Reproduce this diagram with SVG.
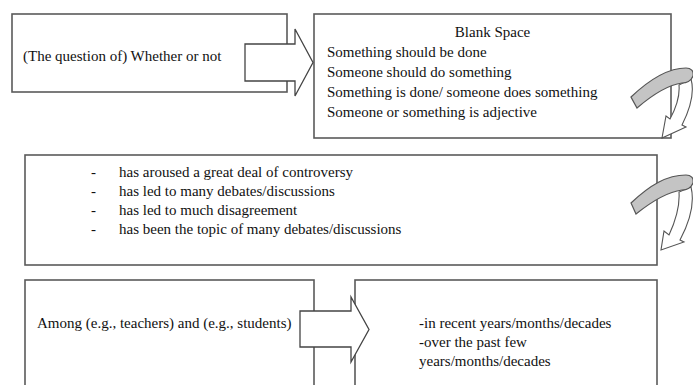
<svg xmlns="http://www.w3.org/2000/svg" width="693" height="385" viewBox="0 0 693 385">
<style>
.box{fill:#fff;stroke:#5a5a5a;stroke-width:1.6}
.t{font-family:"Liberation Serif","Times New Roman",serif;font-size:15px;fill:#111}
.blk{fill:#fff;stroke:#444;stroke-width:1.3;stroke-linejoin:miter}
.band{fill:#c4c4c4;stroke:#555;stroke-width:1.2}
.wa{fill:#fff;stroke:#555;stroke-width:1.1}
</style>
<rect width="693" height="385" fill="#fff"/>
<g id="node-whether">
<rect class="box" x="12" y="14" width="275" height="78"/>
<text class="t" x="23" y="61">(The question of) Whether or not</text>
</g>
<g id="node-blank">
<rect class="box" x="314" y="14" width="357" height="124"/>
<text class="t" x="492.5" y="37" text-anchor="middle">Blank Space</text>
<text class="t" x="327" y="57">Something should be done</text>
<text class="t" x="327" y="77">Someone should do something</text>
<text class="t" x="327" y="97">Something is done/ someone does something</text>
<text class="t" x="327" y="117">Someone or something is adjective</text>
</g>
<g id="node-controversy">
<rect class="box" x="25" y="155" width="632" height="110"/>
<g class="t">
<text x="91" y="177">-</text><text x="119" y="177">has aroused a great deal of controversy</text>
<text x="91" y="196">-</text><text x="119" y="196">has led to many debates/discussions</text>
<text x="91" y="215">-</text><text x="119" y="215">has led to much disagreement</text>
<text x="91" y="234">-</text><text x="119" y="234">has been the topic of many debates/discussions</text>
</g>
</g>
<g id="node-among">
<rect class="box" x="25" y="280" width="289" height="120"/>
<text class="t" x="37" y="328">Among (e.g., teachers) and (e.g., students)</text>
</g>
<g id="node-time">
<rect class="box" x="355" y="280" width="302" height="120"/>
<text class="t" x="419" y="328">-in recent years/months/decades</text>
<text class="t" x="419" y="347">-over the past few</text>
<text class="t" x="419" y="366">years/months/decades</text>
</g>
<g id="connectors">
<path class="blk" d="M245,44 L295,44 L295,29 L313,62.5 L295,96 L295,81 L245,81 Z"/>
<path class="blk" d="M300,311 L351,311 L351,297 L369,329.5 L351,362 L351,347 L300,347 Z"/>
<g id="curve1">
<path class="wa" d="M691,79 C695,93 690,109 682,125 L686,127 L662,138 L666,116 L670,119 C676,108 680,96 679,85 Z"/>
<path class="band" d="M631,97 C650,79 668,68 686,68 C691,68 694,71 693,76 C691,81 687,83 682,83 C667,85 651,96 637,108 Z"/>
</g>
<g id="curve2">
<path class="wa" d="M691,187 C695,203 690,221 680,240 L684,242 L661,250 L664,231 L669,235 C675,222 680,206 679,192 Z"/>
<path class="band" d="M631,203 C650,185 667,175 686,175 C691,175 694,178 693,183 C691,188 687,190 682,190 C667,192 651,202 636,214 Z"/>
</g>
</g>
</svg>
